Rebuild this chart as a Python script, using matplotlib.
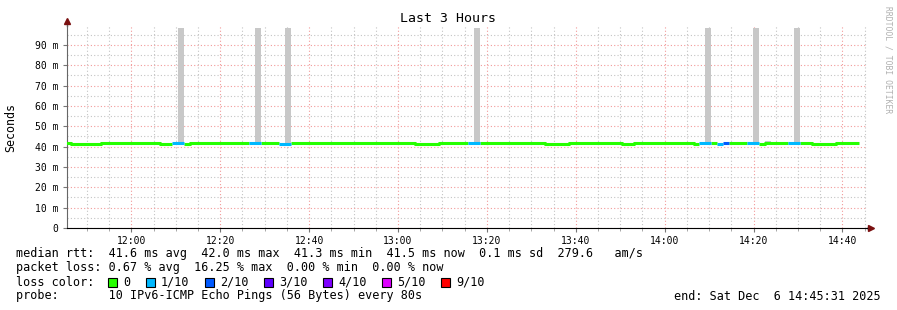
import numpy as np
import matplotlib
matplotlib.use('Agg')
import matplotlib.pyplot as plt
from matplotlib.patches import Rectangle
from matplotlib.ticker import MultipleLocator, FuncFormatter

# median rtt per 80 s step (ms), first step starts 11:45:09
median_ms = [
    42.0, 41.3, 41.3, 41.3, 41.3, 41.3, 42.0, 42.0, 42.0, 42.0,
    42.0, 42.0, 41.6, 41.6, 41.6, 41.6, 41.3, 41.3, 41.6, 41.6,
    41.3, 42.0, 42.0, 42.0, 42.0, 41.6, 41.6, 41.6, 42.0, 42.0,
    42.0, 42.0, 42.0, 42.0, 41.6, 41.6, 41.3, 41.3, 41.6, 41.6,
    42.0, 41.6, 42.0, 42.0, 42.0, 42.0, 42.0, 41.6, 41.6, 41.6,
    41.6, 42.0, 41.6, 42.0, 42.0, 42.0, 42.0, 41.6, 41.6, 41.3,
    41.3, 41.3, 41.3, 42.0, 41.6, 41.6, 42.0, 41.6, 42.0, 42.0,
    41.6, 42.0, 41.6, 41.6, 42.0, 41.6, 41.6, 41.6, 42.0, 42.0,
    41.6, 41.3, 41.3, 41.3, 41.3, 41.6, 41.6, 41.6, 41.6, 41.6,
    41.6, 41.6, 41.6, 41.6, 41.3, 41.3, 42.0, 41.6, 41.6, 41.6,
    41.6, 42.0, 41.6, 41.6, 41.6, 41.6, 41.3, 41.6, 41.6, 41.6,
    41.3, 41.6, 41.6, 41.6, 41.6, 41.6, 41.6, 41.3, 41.6, 41.6,
    41.6, 41.6, 42.0, 42.0, 42.0, 41.6, 41.3, 41.3, 41.3, 41.3,
    41.6, 41.6, 41.6, 41.6,
]

# lost pings out of 10 for each step
loss_tenths = [
    0, 0, 0, 0, 0, 0, 0, 0, 0, 0,
    0, 0, 0, 0, 0, 0, 0, 0, 1, 1,
    0, 0, 0, 0, 0, 0, 0, 0, 0, 0,
    0, 1, 1, 0, 0, 0, 1, 1, 0, 0,
    0, 0, 0, 0, 0, 0, 0, 0, 0, 0,
    0, 0, 0, 0, 0, 0, 0, 0, 0, 0,
    0, 0, 0, 0, 0, 0, 0, 0, 1, 1,
    0, 0, 0, 0, 0, 0, 0, 0, 0, 0,
    0, 0, 0, 0, 0, 0, 0, 0, 0, 0,
    0, 0, 0, 0, 0, 0, 0, 0, 0, 0,
    0, 0, 0, 0, 0, 0, 0, 1, 1, 0,
    1, 2, 0, 0, 0, 1, 1, 0, 0, 0,
    0, 0, 1, 1, 0, 0, 0, 0, 0, 0,
    0, 0, 0, 0,
]

# smoke (max ping) for the steps where it shows
smoke_steps = [19, 32, 37, 69, 108, 116, 118, 123]
smoke_top_ms = [98.4, 98.4, 98.4, 98.4, 98.4, 98.4, 42.6, 98.4]

loss_labels = ['0', '1/10', '2/10', '3/10', '4/10', '5/10', '9/10']
loss_levels = [0, 1, 2, 3, 4, 5, 9]
loss_colors = ['#26ff00', '#00b8ff', '#0059ff', '#5e00ff', '#7e00ff', '#dd00ff', '#ff0000']

first_step_min = 11 * 60 + 45 + 9 / 60.0
step_min = 80 / 60.0
start_min = 11 * 60 + 45 + 31 / 60.0
end_min = start_min + 180

W, H = 897, 310
mono = 'DejaVu Sans Mono'

fig = plt.figure(figsize=(W / 100, H / 100), dpi=100)
fig.patch.set_facecolor('white')
ax = fig.add_axes([67 / W, 82 / H, 800 / W, 202 / H])

med = np.array(median_ms)
loss = np.array(loss_tenths)
edges = first_step_min + step_min * np.arange(len(med) + 1)

# smoke bars
idx = np.array(smoke_steps)
ax.bar(edges[idx], np.array(smoke_top_ms) - med[idx], bottom=med[idx],
       width=step_min, align='edge', color='#c8c8c8', linewidth=0, zorder=2)

# median line coloured by loss
for lvl, col in zip(loss_levels, loss_colors):
    y = np.where(loss == lvl, med, np.nan)
    if np.all(np.isnan(y)):
        continue
    ax.plot(edges, np.append(y, y[-1]), drawstyle='steps-post', color=col,
            lw=2.2, solid_capstyle='butt', zorder=3)

ax.set_xlim(start_min, end_min)
ax.set_ylim(0, 99.3)

ax.xaxis.set_major_locator(MultipleLocator(20))
ax.xaxis.set_minor_locator(MultipleLocator(5))
ax.yaxis.set_major_locator(MultipleLocator(10))
ax.yaxis.set_minor_locator(MultipleLocator(5))
ax.xaxis.set_major_formatter(FuncFormatter(lambda v, p: '%02d:%02d' % (int(v) // 60, int(v) % 60)))
ax.yaxis.set_major_formatter(FuncFormatter(lambda v, p: '0' if v == 0 else '%d m' % round(v)))

ax.grid(which='minor', color='#c4c4c4', linestyle=(0, (1, 2)), lw=0.8)
ax.grid(which='major', color='#f29a9a', linestyle=(0, (1, 2)), lw=0.8)
ax.set_axisbelow(True)

ax.tick_params(which='major', length=3, width=0.8, color='#777777', pad=3,
               labelsize=7)
ax.tick_params(which='minor', length=2, width=0.6, color='#999999')
ax.tick_params(axis='y', which='minor', length=0)
for lab in ax.get_xticklabels() + ax.get_yticklabels():
    lab.set_family(mono)

for s in ['top', 'right']:
    ax.spines[s].set_visible(False)
ax.spines['left'].set_color('#666666')
ax.spines['bottom'].set_color('black')
ax.plot([1, 1.004], [0, 0], transform=ax.transAxes, clip_on=False, color='black', lw=1)
ax.plot([0, 0], [1, 1.02], transform=ax.transAxes, clip_on=False, color='#666666', lw=1)
ax.plot([1.0055], [0], marker='>', ms=4, color='#7a1010', transform=ax.transAxes, clip_on=False)
ax.plot([0], [1.025], marker='^', ms=4, color='#7a1010', transform=ax.transAxes, clip_on=False)


def fx(x):
    return x / W


def fy(y):
    return 1 - y / H


fig.text(fx(448), fy(19), 'Last 3 Hours', ha='center', va='center', fontsize=9.5, family=mono)
fig.text(fx(11), fy(127), 'Seconds', ha='center', va='center', rotation=90, fontsize=8.4, family=mono)
fig.text(fx(888), fy(60), 'RRDTOOL / TOBI OETIKER', ha='center', va='center', rotation=270,
         fontsize=5.8, family=mono, color='#b0b0b0')

fs = 8.5
cw = 7.1
fig.text(fx(16), fy(254), 'median rtt:  41.6 ms avg  42.0 ms max  41.3 ms min  41.5 ms now  0.1 ms sd  279.6   am/s',
         va='center', fontsize=fs, family=mono)
fig.text(fx(16), fy(268), 'packet loss: 0.67 % avg  16.25 % max  0.00 % min  0.00 % now',
         va='center', fontsize=fs, family=mono)
fig.text(fx(16), fy(282), 'loss color:', va='center', fontsize=fs, family=mono)
x = 108
for lab, col in zip(loss_labels, loss_colors):
    fig.patches.append(Rectangle((fx(x), fy(286.5)), 9 / W, 9 / H, transform=fig.transFigure,
                                 facecolor=col, edgecolor='black', lw=0.8))
    fig.text(fx(x + 15), fy(282), lab, va='center', fontsize=fs, family=mono)
    x = x + 15 + (len(lab) + 2) * cw + 1.5
fig.text(fx(16), fy(296), 'probe:       10 IPv6-ICMP Echo Pings (56 Bytes) every 80s',
         va='center', fontsize=fs, family=mono)
fig.text(fx(881), fy(296), 'end: Sat Dec  6 14:45:31 2025', ha='right', va='center',
         fontsize=fs, family=mono)

fig.savefig('out.png', dpi=100, facecolor='white')
